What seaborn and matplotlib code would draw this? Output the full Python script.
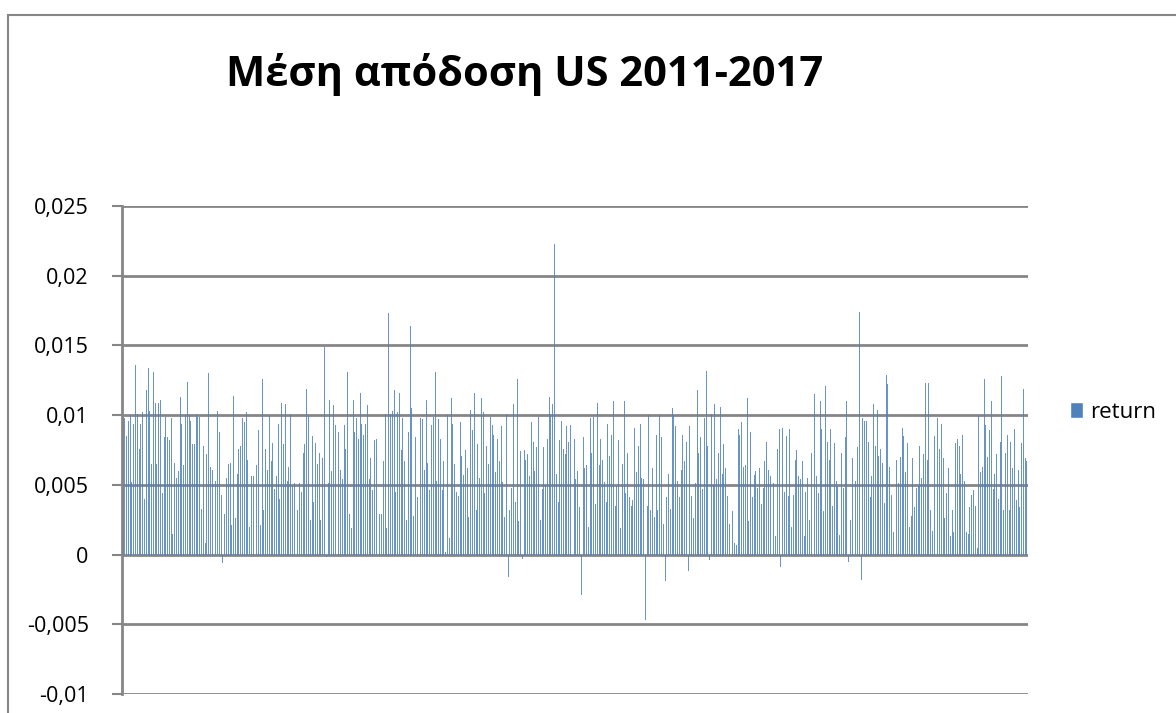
import numpy as np
import pandas as pd
import seaborn as sns
import matplotlib.pyplot as plt
from matplotlib.patches import Rectangle, Patch
from matplotlib.ticker import FuncFormatter

# weekly mean return in six chunks (left to right)
seg1 = [0.0099, 0.0098, 0.0085, 0.0096, 0.0100, 0.0052, 0.0094, 0.0136, 0.0101, 0.0076,
        0.0094, 0.0102, 0.0040, 0.0118, 0.0134, 0.0103, 0.0065, 0.0131, 0.0109, 0.0065,
        0.0109, 0.0111, 0.0044, 0.0084, 0.0099, 0.0084, 0.0082, 0.0098, 0.0015, 0.0066,
        0.0055, 0.0060, 0.0113, 0.0094, 0.0064, 0.0100, 0.0124, 0.0100, 0.0096, 0.0079,
        0.0079, 0.0101, 0.0099, 0.0099, 0.0033, 0.0078, 0.0008, 0.0072, 0.0130, 0.0063,
        0.0061, 0.0099, 0.0053, 0.0103, 0.0088, 0.0043, -0.0006, 0.0029, 0.0055, 0.0065,
        0.0066, 0.0021, 0.0114, 0.0026, 0.0058, 0.0076, 0.0078, 0.0098, 0.0095, 0.0102,
        0.0068, 0.0020, 0.0056, 0.0056, 0.0097, 0.0064, 0.0089, 0.0021, 0.0126, 0.0032,
        0.0076]
seg2 = [0.0061, 0.0100, 0.0067, 0.0080, 0.0047, 0.0056, 0.0094, 0.0040, 0.0109, 0.0079,
        0.0108, 0.0053, 0.0063, 0.0101, 0.0050, 0.0051, 0.0071, 0.0032, 0.0051, 0.0045,
        0.0073, 0.0079, 0.0119, 0.0100, 0.0025, 0.0085, 0.0038, 0.0080, 0.0065, 0.0073,
        0.0025, 0.0069, 0.0149, -0.0002, 0.0051, 0.0111, 0.0060, 0.0107, 0.0093, 0.0078,
        0.0088, 0.0061, 0.0054, 0.0093, 0.0076, 0.0131, 0.0029, 0.0019, 0.0111, 0.0088,
        0.0098, 0.0083, 0.0116, 0.0094, 0.0086, 0.0094, 0.0107, 0.0054, 0.0069, 0.0046,
        0.0082, 0.0083, 0.0038, 0.0029, 0.0029, 0.0067, 0.0101, 0.0019, 0.0173, 0.0101,
        0.0103, 0.0118, 0.0045, 0.0102, 0.0116, 0.0075, 0.0098, 0.0067, 0.0025, 0.0088,
        0.0164, 0.0105, 0.0028, 0.0084, 0.0041]
seg3 = [0.0061, 0.0098, 0.0097, 0.0061, 0.0111, 0.0066, 0.0046, 0.0093, 0.0099, 0.0131,
        0.0053, 0.0097, 0.0083, 0.0046, 0.0067, 0.0002, 0.0100, 0.0012, 0.0112, 0.0094,
        0.0065, 0.0045, 0.0042, 0.0095, 0.0071, 0.0057, 0.0075, 0.0062, 0.0027, 0.0104,
        0.0089, 0.0116, 0.0032, 0.0079, 0.0055, 0.0112, 0.0102, 0.0044, 0.0078, 0.0065,
        0.0099, 0.0093, 0.0086, 0.0059, 0.0083, 0.0067, 0.0092, 0.0052, 0.0027, 0.0101,
        -0.0016, 0.0032, 0.0048, 0.0108, 0.0038, 0.0126, 0.0024, 0.0074, -0.0003, 0.0075,
        0.0068, 0.0072, 0.0056, 0.0095, 0.0081, 0.0060, 0.0077, 0.0099, 0.0025, 0.0047,
        0.0077, 0.0050, 0.0083, 0.0113, 0.0101, 0.0108, 0.0223, 0.0058, 0.0038, 0.0082,
        0.0096, 0.0076, 0.0072, 0.0092, 0.0081, 0.0093]
seg4 = [-0.0001, 0.0083, 0.0054, 0.0060, 0.0034, -0.0029, 0.0084, 0.0062, 0.0064, 0.0020,
        0.0098, 0.0073, 0.0099, 0.0036, 0.0109, 0.0064, 0.0083, 0.0068, 0.0052, 0.0038,
        0.0094, 0.0071, 0.0086, 0.0110, 0.0035, 0.0049, 0.0082, 0.0019, 0.0065, 0.0110,
        0.0044, 0.0073, 0.0041, 0.0035, 0.0039, 0.0091, 0.0059, 0.0078, 0.0094, 0.0055,
        0.0054, -0.0047, 0.0035, 0.0100, 0.0032, 0.0062, 0.0027, 0.0086, 0.0032, 0.0100,
        0.0084, 0.0022, -0.0019, 0.0041, 0.0058, 0.0033, 0.0105, 0.0100, 0.0092, 0.0053,
        0.0041, 0.0061, 0.0086, 0.0067, 0.0081, -0.0012, 0.0092, 0.0042, 0.0026, 0.0051,
        0.0118, 0.0073, 0.0084, 0.0047, 0.0098, 0.0132, 0.0078, -0.0004, 0.0101, 0.0050,
        0.0108, 0.0054, 0.0073, 0.0106, 0.0058, 0.0079]
seg5 = [0.0062, 0.0042, 0.0022, 0.0012, 0.0031, 0.0008, 0.0007, 0.0090, 0.0086, 0.0095,
        0.0063, 0.0064, 0.0112, 0.0024, 0.0088, 0.0041, 0.0057, 0.0060, 0.0048, 0.0062,
        0.0036, 0.0048, 0.0067, 0.0081, 0.0061, 0.0056, 0.0096, 0.0051, 0.0013, 0.0076,
        0.0090, -0.0009, 0.0091, 0.0045, 0.0085, 0.0042, 0.0090, 0.0020, 0.0043, 0.0068,
        0.0075, 0.0056, 0.0054, 0.0067, 0.0013, 0.0045, 0.0055, 0.0025, 0.0073, 0.0121,
        0.0115, 0.0056, 0.0044, 0.0110, 0.0090, 0.0031, 0.0121, 0.0081, 0.0068, 0.0090,
        0.0035, 0.0080, 0.0053, 0.0049, 0.0014, 0.0073, 0.0048, 0.0084, 0.0110, -0.0005,
        0.0025, 0.0069, -0.0002, 0.0053, 0.0077, 0.0174, -0.0018, 0.0098, 0.0096, 0.0096,
        0.0081, 0.0041, 0.0056, 0.0108, 0.0078, 0.0104]
seg6 = [0.0071, 0.0076, 0.0066, 0.0037, 0.0129, 0.0122, 0.0063, 0.0043, 0.0016, 0.0067,
        0.0068, 0.0051, 0.0070, 0.0091, 0.0085, 0.0059, 0.0080, 0.0020, 0.0028, 0.0069,
        0.0034, 0.0048, 0.0049, 0.0078, 0.0055, 0.0072, 0.0123, 0.0068, 0.0123, 0.0032,
        0.0017, 0.0085, 0.0042, 0.0098, 0.0076, 0.0094, 0.0069, 0.0026, 0.0044, 0.0062,
        0.0013, 0.0032, 0.0016, 0.0080, 0.0083, 0.0078, 0.0058, 0.0086, 0.0053, 0.0016,
        0.0015, 0.0034, 0.0043, 0.0046, 0.0035, 0.0005, 0.0100, 0.0059, 0.0063, 0.0126,
        0.0093, 0.0070, 0.0089, 0.0110, 0.0047, 0.0058, 0.0072, 0.0040, 0.0081, 0.0128,
        0.0032, 0.0073, 0.0086, 0.0032, 0.0081, 0.0062, 0.0090, 0.0039, 0.0061, 0.0034,
        0.0080, 0.0119, 0.0069, 0.0067]

returns = seg1 + seg2 + seg3 + seg4 + seg5 + seg6
df = pd.DataFrame({"week": np.arange(len(returns)), "return": returns})

title = "Μέση απόδοση US 2011-2017"
bar_color = "#4F81BD"
grid_color = "#868686"

sns.set_style("white")
plt.rcParams["font.family"] = ["Open Sans", "DejaVu Sans"]
plt.rcParams["text.color"] = "black"

fig = plt.figure(figsize=(11.76, 7.13), dpi=100)
ax = fig.add_axes([122 / 1176, 1 - 694 / 713, (1028 - 122) / 1176, (694 - 206) / 713])

sns.barplot(data=df, x="week", y="return", color=bar_color, width=0.55,
            linewidth=0, saturation=1, alpha=0.85, ax=ax)

ax.set_ylim(-0.01, 0.025)
ax.set_yticks(np.arange(-0.01, 0.0251, 0.005))
ax.yaxis.set_major_formatter(FuncFormatter(
    lambda v, p: "0" if abs(v) < 1e-9 else f"{v:.3f}".rstrip("0").replace(".", ",")))
ax.set_xlim(-0.6, len(returns) - 0.4)
ax.set_xticks([])
ax.set_xlabel("")
ax.set_ylabel("")
ax.set_axisbelow(True)
ax.grid(axis="y", color=grid_color, linewidth=2)
for s in ["top", "right", "bottom"]:
    ax.spines[s].set_visible(False)
ax.spines["left"].set_color(grid_color)
ax.spines["left"].set_linewidth(2)
ax.tick_params(axis="y", length=7, width=1.5, color=grid_color,
               labelsize=15.5, labelcolor="black", pad=17, left=True)

fig.text(525 / 1176, 1 - 75 / 713, title, ha="center", va="center",
         fontsize=30, fontweight="bold", color="black")

fig.legend(handles=[Patch(facecolor=bar_color, label="return")],
           loc="center left", bbox_to_anchor=(1050 / 1176, 1 - 412 / 713),
           frameon=False, fontsize=16, handlelength=0.6, handleheight=0.7,
           handletextpad=0.3, labelcolor="black")

# outer chart frame
fig.patches.append(Rectangle((8 / 1176, -0.05), 1.2, 1 - 15 / 713 + 0.05,
                             transform=fig.transFigure, fill=False,
                             edgecolor=grid_color, linewidth=1.5))

fig.savefig("out.png", dpi=100)
